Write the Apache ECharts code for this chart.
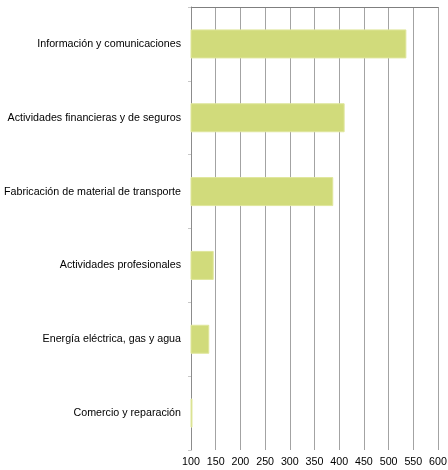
<!DOCTYPE html>
<html>
<head>
<meta charset="utf-8">
<script src="https://cdn.jsdelivr.net/npm/echarts@6/dist/echarts.min.js"></script>
<style>html,body{margin:0;padding:0;background:#fff;}#c{width:448px;height:470px;}</style>
</head>
<body>
<div id="c"></div>
<script>
const categories = [
  "Información y comunicaciones",
  "Actividades financieras y de seguros",
  "Fabricación de material de transporte",
  "Actividades profesionales",
  "Energía eléctrica, gas y agua",
  "Comercio y reparación"
];
const values = [536, 411, 388, 146, 137, 103];
const xMin = 100, xMax = 600, xStep = 50;

const chart = echarts.init(document.getElementById('c'), null, {renderer: 'canvas'});
chart.setOption({
  animation: false,
  backgroundColor: '#ffffff',
  grid: {left: 191, right: 10, top: 7, bottom: 20, containLabel: false, outerBoundsMode: 'none'},
  xAxis: [{
    type: 'value', position: 'bottom', min: xMin, max: xMax, interval: xStep,
    axisLine: {show: false},
    axisTick: {show: false},
    axisLabel: {color: '#000', fontFamily: 'Liberation Sans, Arial', fontSize: 10.7, margin: 7},
    splitLine: {show: true, lineStyle: {color: '#a3a3a3', width: 1}}
  }, {
    type: 'value', position: 'top', min: xMin, max: xMax, interval: xStep,
    axisLine: {show: true, onZero: false, lineStyle: {color: '#7f7f7f', width: 1.2}},
    axisTick: {show: false}, axisLabel: {show: false}, splitLine: {show: false}
  }],
  yAxis: {
    type: 'category', data: categories, inverse: true,
    axisLine: {show: true, lineStyle: {color: '#8c8c8c', width: 1}},
    axisTick: {show: true, length: 3, lineStyle: {color: '#c8c8c8'}},
    axisLabel: {color: '#000', fontFamily: 'Liberation Sans, Arial', fontSize: 10.7, margin: 10}
  },
  series: [{
    type: 'bar', data: values, barWidth: 29, xAxisIndex: 0,
    itemStyle: {color: '#d1db7b', borderColor: '#dfe69c', borderWidth: 1}
  }]
});
</script>
</body>
</html>
